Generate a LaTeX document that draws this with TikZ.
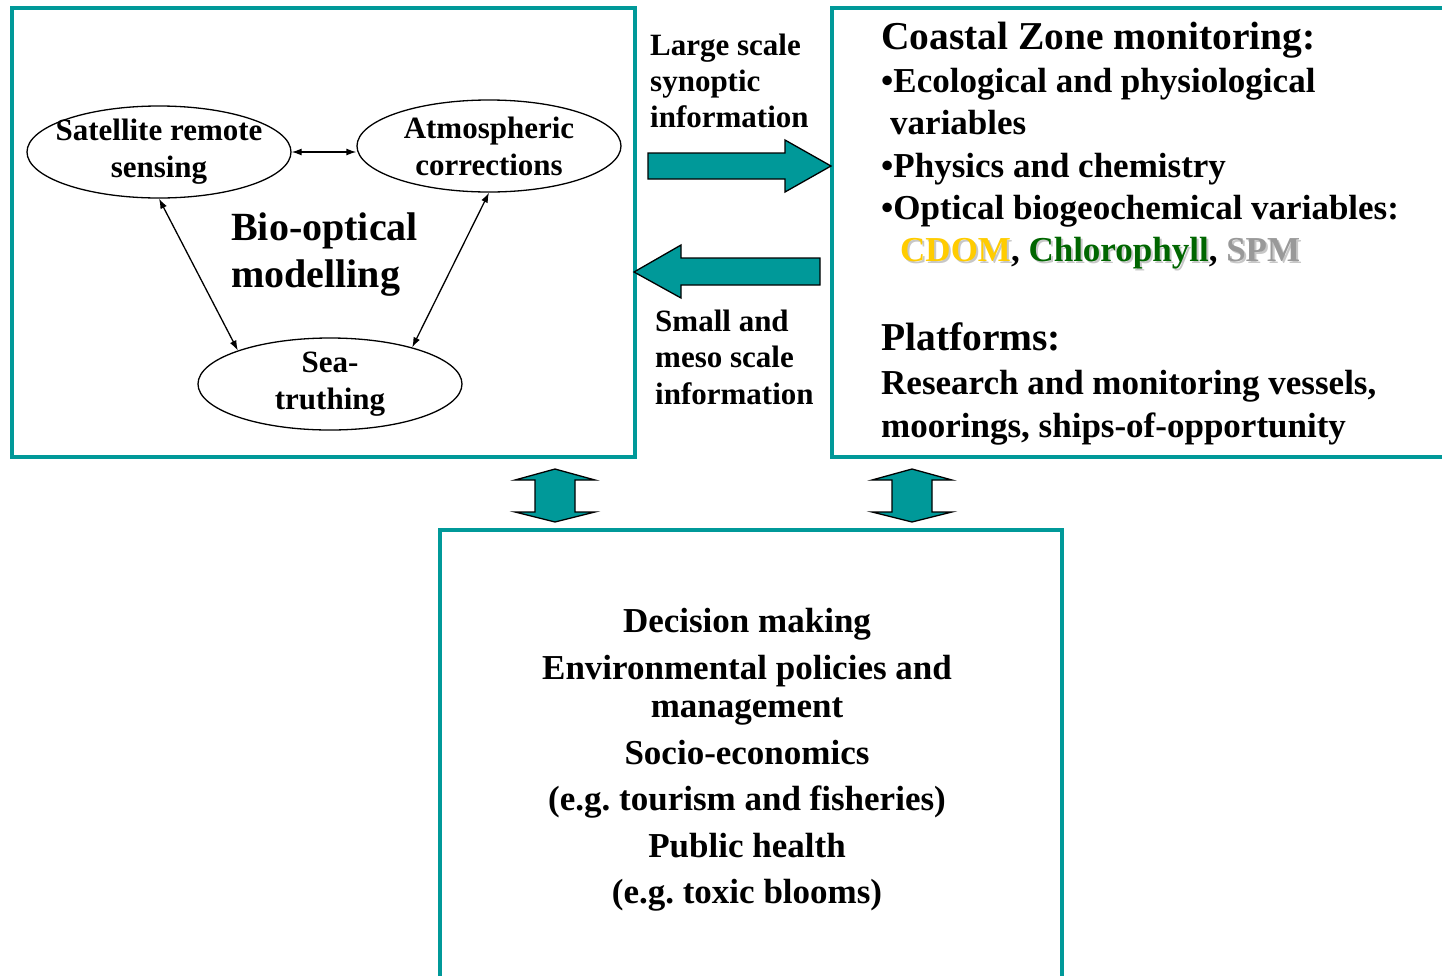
\documentclass[tikz,border=0pt]{standalone}
\usepackage{fontspec}
\setmainfont{Liberation Serif}
\frenchspacing
\usetikzlibrary{arrows.meta, shapes.geometric}
\definecolor{zoneteal}{RGB}{0,153,153}
\definecolor{cdomyellow}{RGB}{255,204,0}
\definecolor{chlgreen}{RGB}{0,102,0}
\definecolor{spmgray}{RGB}{153,153,153}
\newcommand{\shadowed}[2]{\makebox[0pt][l]{\hspace{2pt}\raisebox{-2pt}{\color{black!22}#2}}\textcolor{#1}{#2}}

\begin{document}
\begin{tikzpicture}[x=1pt, y=-1pt,
	box/.style={draw=zoneteal, line width=4pt},
	blockarrow/.style={fill=zoneteal, draw=black, line width=1.3pt, line join=miter},
	oval/.style={ellipse, draw, line width=1.3pt, minimum width=264pt, minimum height=92pt,
		inner xsep=-15pt, inner ysep=-5pt, align=center, font=\fontsize{31}{37}\selectfont\bfseries},
	flowtext/.style={anchor=base west, inner sep=0pt, font=\fontsize{31}{36}\selectfont\bfseries},
	headtext/.style={anchor=base west, inner sep=0pt, font=\fontsize{39.5}{44}\selectfont\bfseries},
	bodytext/.style={anchor=base west, inner sep=0pt, font=\fontsize{35}{42}\selectfont\bfseries},
	usetext/.style={anchor=base, inner sep=0pt, font=\fontsize{35}{42}\selectfont\bfseries},
	>={Latex[length=10pt, width=7pt]}]
		\useasboundingbox (0,0) rectangle (1442,975);
		\clip (0,0) rectangle (1442,975);
		% boxes
		\draw [box] (12,8) rectangle (635,457);
		\draw [box] (832,8) rectangle (1470,457);
		\draw [box] (440,530) rectangle (1062,1010);
		% bio-optical modelling
		\node [oval] (sat) at (159,152) {Satellite remote\\sensing};
		\node [oval] (atm) at (489,146) {Atmospheric\\corrections};
		\node [oval] (sea) at (330,384) {Sea-\\truthing};
		\draw [<->, line width=1.3pt] (sat.east) -- (sat.east -| atm.west);
		\draw [<->, line width=1.3pt] (sat.south) -- (sea.160);
		\draw [<->, line width=1.3pt] (atm.south) -- (sea.24);
		\node [headtext, font=\fontsize{40}{47}\selectfont\bfseries] (bio1) at (231,240) {Bio-optical};
		\node [headtext, font=\fontsize{40}{47}\selectfont\bfseries] (bio2) at (231,287) {modelling};
		% exchange arrows
		\draw [blockarrow] (648,153) -- (785,153) -- (785,140) -- (831,166) -- (785,192) -- (785,179) -- (648,179) -- cycle;
		\draw [blockarrow] (820,258) -- (681,258) -- (681,245) -- (634,272) -- (681,298) -- (681,285) -- (820,285) -- cycle;
		\node [flowtext] (large1) at (650,55) {Large scale};
		\node [flowtext] (large2) at (650,91) {synoptic};
		\node [flowtext] (large3) at (650,127) {information};
		\node [flowtext] (small1) at (655,331) {Small and};
		\node [flowtext] (small2) at (655,367) {meso scale};
		\node [flowtext] (small3) at (655,404) {information};
		% coastal zone monitoring
		\node [headtext] (czm) at (881,49) {Coastal Zone monitoring:};
		\node [bodytext] (eco1) at (881,92) {•Ecological and physiological};
		\node [bodytext] (eco2) at (890,134) {variables};
		\node [bodytext] (phys) at (881,177) {•Physics and chemistry};
		\node [bodytext] (opt) at (881,219) {•Optical biogeochemical variables:};
		\node [bodytext] (optvar) at (900,261) {\shadowed{cdomyellow}{CDOM}, \shadowed{chlgreen}{Chlorophyll}, \shadowed{spmgray}{SPM}};
		\node [headtext] (plat) at (881,350) {Platforms:};
		\node [bodytext] (plat1) at (881,394) {Research and monitoring vessels,};
		\node [bodytext] (plat2) at (881,437) {moorings, ships-of-opportunity};
		% links to the users
		\foreach \x in {555,912}{
			\draw [blockarrow] (\x,469) -- ({\x+40},480) -- ({\x+20},480) -- ({\x+20},512) -- ({\x+40},512)
				-- (\x,522) -- ({\x-40},512) -- ({\x-20},512) -- ({\x-20},480) -- ({\x-40},480) -- cycle;
		}
		\node [usetext] (use1) at (747,632) {Decision making};
		\node [usetext] (use2) at (747,679) {Environmental policies and};
		\node [usetext] (use3) at (747,717) {management};
		\node [usetext] (use4) at (747,764) {Socio-economics};
		\node [usetext] (use5) at (747,810) {(e.g. tourism and fisheries)};
		\node [usetext] (use6) at (747,857) {Public health};
		\node [usetext] (use7) at (747,903) {(e.g. toxic blooms)};
\end{tikzpicture}
\end{document}
